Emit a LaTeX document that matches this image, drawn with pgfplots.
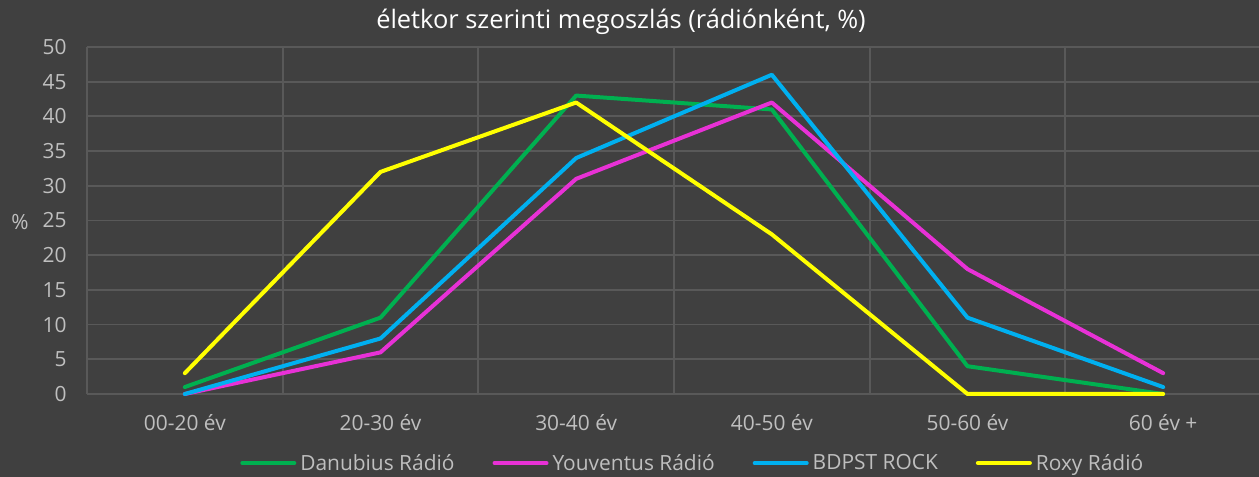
\documentclass[border=0pt]{standalone}
\usepackage{pgfplots}
\pgfplotsset{compat=1.18}
\usepackage{fontspec}
\setmainfont{Open Sans}
\definecolor{bg}{HTML}{404040}
\definecolor{gridc}{HTML}{595959}
\definecolor{lbl}{HTML}{BFBFBF}
\definecolor{cgreen}{HTML}{00B050}
\definecolor{cmag}{HTML}{E831D6}
\definecolor{cblue}{HTML}{00B0F0}
\definecolor{cyel}{HTML}{FFFF00}
\begin{document}
\begin{tikzpicture}[x=1bp,y=1bp]
\fill[bg] (0,0) rectangle (1259,477);
\useasboundingbox (0,0) rectangle (1259,477);
\node[text=white, font=\fontsize{25.5}{30}\selectfont] at (621,455) {életkor szerinti megoszlás (rádiónként, \%)};
\node[text=lbl, font=\fontsize{21}{25}\selectfont] at (20,255) {\%};
\begin{axis}[
  at={(87bp,83bp)}, anchor=south west,
  scale only axis, width=1174bp, height=347bp,
  xmin=-0.5, xmax=5.5, ymin=0, ymax=50,
  clip=false,
  ytick={0,5,...,50},
  xtick={0,1,2,3,4,5},
  xticklabels={00-20 év,20-30 év,30-40 év,40-50 év,50-60 év,60 év +},
  extra x ticks={-0.5,0.5,1.5,2.5,3.5,4.5,5.5},
  extra x tick labels={},
  extra x tick style={grid=major},
  ymajorgrids,
  grid style={gridc, line width=1.8bp},
  axis line style={draw=none},
  major tick length=0pt, minor tick length=0pt,
  tick style={draw=none},
  ticklabel style={text=lbl, font=\fontsize{21}{25}\selectfont},
  /pgf/number format/assume math mode=true,
  xticklabel style={yshift=-17bp},
  yticklabel style={xshift=-17bp},
  legend columns=4,
  legend style={at={(0.516,-0.199)}, anchor=center, draw=none, fill=none,
    text=lbl, font=\fontsize{21}{25}\selectfont,
    /tikz/every even column/.append style={column sep=36bp},
    /tikz/every odd column/.append style={column sep=2bp}},
  legend image code/.code={\draw[#1, line width=4bp, line cap=round] (0bp,0bp) -- (52bp,0bp);},
  every axis plot/.append style={line width=4bp, line cap=round, line join=round},
]
\addplot[cgreen] coordinates {(0,1) (1,11) (2,43) (3,41) (4,4) (5,0)};
\addlegendentry{Danubius Rádió}
\addplot[cmag] coordinates {(0,0) (1,6) (2,31) (3,42) (4,18) (5,3)};
\addlegendentry{Youventus Rádió}
\addplot[cblue] coordinates {(0,0) (1,8) (2,34) (3,46) (4,11) (5,1)};
\addlegendentry{BDPST ROCK}
\addplot[cyel] coordinates {(0,3) (1,32) (2,42) (3,23) (4,0) (5,0)};
\addlegendentry{Roxy Rádió}
\end{axis}
\end{tikzpicture}
\end{document}
